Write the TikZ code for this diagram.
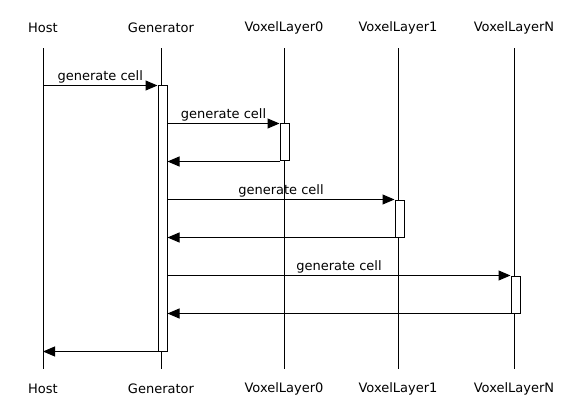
\documentclass[tikz,border=0pt]{standalone}
\usepackage{fontspec}
\setmainfont{DejaVu Sans}
\usepackage{tikz}
\usetikzlibrary{arrows.meta}

\tikzset{
  actor/.style={minimum height=40pt, inner sep=0pt, font=\fontsize{13}{15}\selectfont},
  lifeline/.style={line width=1pt},
  activation/.style={draw, line width=1pt, fill=white, minimum width=9pt, inner sep=0pt},
  msg/.style={line width=1pt, -{Triangle[length=12pt,width=10pt]}},
  msglabel/.style={font=\fontsize{13}{15}\selectfont, above, inner sep=2pt}
}

\begin{document}
\begin{tikzpicture}[x=1pt, y=-1pt]
    \useasboundingbox (0,0) rectangle (582,412);

    %% participants, top and bottom
    \node[actor] (hostT) at (43,28) {Host};
    \node[actor] (genT)  at (161,28) {Generator};
    \node[actor] (vlzT)  at (284,28) {VoxelLayer0};
    \node[actor] (vloT)  at (398,28) {VoxelLayer1};
    \node[actor] (vlnT)  at (514,28) {VoxelLayerN};
    \node[actor] (hostB) at (43,389) {Host};
    \node[actor] (genB)  at (161,389) {Generator};
    \node[actor] (vlzB)  at (284,389) {VoxelLayer0};
    \node[actor] (vloB)  at (398,389) {VoxelLayer1};
    \node[actor] (vlnB)  at (514,389) {VoxelLayerN};

    %% lifelines
    \draw[lifeline] (hostT.south) -- (hostB.north);
    \draw[lifeline] (genT.south)  -- (genB.north);
    \draw[lifeline] (vlzT.south)  -- (vlzB.north);
    \draw[lifeline] (vloT.south)  -- (vloB.north);
    \draw[lifeline] (vlnT.south)  -- (vlnB.north);

    %% activation bars
    \node[activation, minimum height=265pt] (genAct) at (162.5,218.5) {};
    \node[activation, minimum height=37pt]  (vlzAct) at (284.5,142.5) {};
    \node[activation, minimum height=37pt]  (vloAct) at (399.5,218.5) {};
    \node[activation, minimum height=37pt]  (vlnAct) at (515.5,294.5) {};

    %% calls
    \draw[msg] (hostT |- genAct.north) -- node[msglabel] {generate cell} (genAct.north west);
    \draw[msg] (genAct.east |- vlzAct.north) -- node[msglabel] {generate cell} (vlzAct.north west);
    \draw[msg] (vlzAct.south west) -- (genAct.east |- vlzAct.south);
    \draw[msg] (genAct.east |- vloAct.north) -- node[msglabel] {generate cell} (vloAct.north west);
    \draw[msg] (vloAct.south west) -- (genAct.east |- vloAct.south);
    \draw[msg] (genAct.east |- vlnAct.north) -- node[msglabel] {generate cell} (vlnAct.north west);
    \draw[msg] (vlnAct.south west) -- (genAct.east |- vlnAct.south);
    \draw[msg] (genAct.south west) -- (hostT |- genAct.south);
\end{tikzpicture}
\end{document}
